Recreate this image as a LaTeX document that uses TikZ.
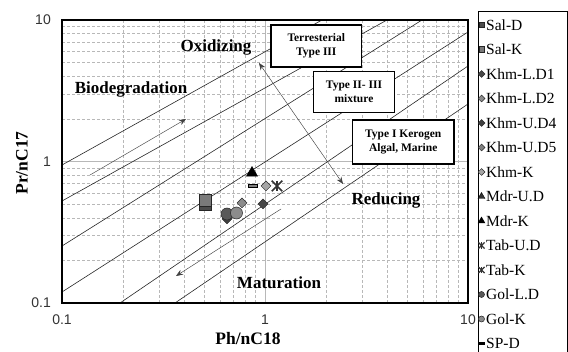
\documentclass[tikz,border=0pt]{standalone}
\usepackage{fontspec}
\setmainfont{Liberation Serif}
\newfontfamily\axsans{Liberation Sans}
\usetikzlibrary{shapes.geometric,shapes.misc,arrows.meta}
\begin{document}
\begin{tikzpicture}[x=1pt,y=-1pt,
  gridminor/.style={draw=black!28, dash pattern=on 3pt off 2pt, line width=0.5pt},
  gridmajor/.style={draw=black!28, line width=0.6pt},
  trend/.style={draw=black!85, line width=0.6pt},
  thinarrow/.style={draw=black!75, line width=0.45pt, -{Stealth[length=7pt,width=5.5pt]}},
  dblarrow/.style={draw=black!75, line width=0.45pt, {Stealth[length=7pt,width=5.5pt]}-{Stealth[length=7pt,width=5.5pt]}},
  typebox/.style={draw=black, line width=1.1pt, fill=white, align=center, inner sep=0pt,
    font=\fontsize{11.5}{13.5}\selectfont\bfseries},
  zonelabel/.style={font=\fontsize{17}{20}\selectfont\bfseries, inner sep=0pt},
  axlabel/.style={font=\fontsize{17.5}{20}\selectfont\bfseries, inner sep=0pt},
  ticklab/.style={font=\axsans\fontsize{14}{16}\selectfont, text=black!80, inner sep=0pt},
  legtext/.style={font=\fontsize{15.5}{17}\selectfont, anchor=west, inner sep=0pt},
  mksq/.style={rectangle, draw=black!85, line width=0.5pt, minimum size=#1, inner sep=0pt},
  mkdia/.style={diamond, draw=black!85, line width=0.5pt, minimum size=#1, inner sep=0pt},
  mkcirc/.style={circle, draw=black!85, line width=0.5pt, minimum size=#1, inner sep=0pt},
  mktri/.style={regular polygon, regular polygon sides=3, draw=black, fill=black, line width=0.4pt, minimum size=#1, inner sep=0pt},
  mkx/.style={cross out, draw=black!80, line width=1.5pt, minimum size=#1, inner sep=0pt},
  mkdash/.style={rectangle, draw=black, fill=black!50, line width=0.5pt, minimum width=#1, minimum height=2.5pt, inner sep=0pt},
  framebox/.style={draw=black, line width=2pt, inner sep=0pt, minimum width=406pt, minimum height=283pt},
  legbox/.style={draw=black, line width=1pt, inner sep=0pt, minimum width=89pt, minimum height=348pt}
]
\useasboundingbox (0,0) rectangle (568,352);
\clip (0,0) rectangle (568,352);

% ---------- grid ----------
\foreach \gx in {123.1,158.9,184.2,203.9,220.0,233.6,245.3,255.7,326.1,361.9,387.2,406.9,423.0,436.6,448.3,458.7}
  \draw[gridminor] (\gx,20) -- (\gx,303);
\foreach \gy in {260.4,235.5,217.8,204.1,192.9,183.4,175.2,168.0,118.9,94.0,76.3,62.6,51.4,41.9,33.7,26.5}
  \draw[gridminor] (62,\gy) -- (468,\gy);
\draw[gridmajor] (265,20) -- (265,303);
\draw[gridmajor] (62,161.5) -- (468,161.5);

% ---------- trend lines ----------
\coordinate (a1) at (62,165);  \coordinate (a2) at (322,20);
\coordinate (b1) at (62,201);  \coordinate (b2) at (387,20);
\coordinate (c1) at (62,246);  \coordinate (c2) at (422,20);
\coordinate (d1) at (62,292);  \coordinate (d2) at (468,32);
\coordinate (e1) at (120,303); \coordinate (e2) at (468,66);
\coordinate (f1) at (175,303); \coordinate (f2) at (468,104);
\draw[trend] (a1) -- (a2);
\draw[trend] (b1) -- (b2);
\draw[trend] (c1) -- (c2);
\draw[trend] (d1) -- (d2);
\draw[trend] (e1) -- (e2);
\draw[trend] (f1) -- (f2);

% ---------- arrows ----------
\coordinate (bio1) at (90,175);  \coordinate (bio2) at (186,119);
\coordinate (mat1) at (281,209); \coordinate (mat2) at (176,276);
\coordinate (dia1) at (259,63);  \coordinate (dia2) at (343,184);
\draw[thinarrow] (bio1) -- (bio2);
\draw[thinarrow] (mat1) -- (mat2);
\draw[dblarrow] (dia1) -- (dia2);

% ---------- type boxes ----------
\node[typebox, minimum width=90.5pt, minimum height=42pt] (terr) at (316.25,46) {Terresterial\\Type III};
\node[typebox, minimum width=81pt, minimum height=40.5pt] (mix) at (354,92) {Type II- III\\mixture};
\node[typebox, minimum width=101.5pt, minimum height=44pt] (algal) at (403.25,142) {Type I Kerogen\\Algal, Marine};

% ---------- zone labels ----------
\node[zonelabel] (oxi) at (216,47) {Oxidizing};
\node[zonelabel] (bio) at (131,89) {Biodegradation};
\node[zonelabel] (red) at (386,200) {Reducing};
\node[zonelabel] (mat) at (279,283) {Maturation};

% ---------- data ----------
\node[mksq=12pt, fill=black!70] (salD) at (205,204) {};
\node[mksq=12pt, fill=black!52] (salK) at (205,200) {};
\node[mkdia=10pt, fill=black!75] (khmU4) at (227,219) {};
\node[mkcirc=12pt, fill=black!65] (golLD) at (227,214) {};
\node[mkcirc=12pt, fill=black!45] (golK) at (236.5,213) {};
\node[mkdia=10pt, fill=black!45] (khmL2) at (242,203) {};
\node[mkdia=10pt, fill=black!72] (khmL1) at (263,204) {};
\node[mktri=13pt] (mdrK) at (252,173) {};
\node[mkdash=9pt] (spD) at (253,186) {};
\node[mkdia=10pt, fill=black!35] (khmK) at (266,186) {};
\node[mkx=9pt] (tabK) at (277,186) {};
\draw[black!80, line width=1.5pt] (tabK.north) -- (tabK.south);

% ---------- frame ----------
\node[framebox] (frame) at (265,161.5) {};

% ---------- ticks ----------
\node[ticklab, anchor=east] (y10) at (51,20) {10};
\node[ticklab, anchor=east] (y1) at (51,161.5) {1};
\node[ticklab, anchor=east] (y01) at (51,303) {0.1};
\node[ticklab] (x01) at (62,320) {0.1};
\node[ticklab] (x1) at (265,320) {1};
\node[ticklab] (x10) at (468,320) {10};

% ---------- axis labels ----------
\node[axlabel, rotate=90] (ylab) at (22,163) {Pr/nC17};
\node[axlabel] (xlab) at (248,339) {Ph/nC18};

% ---------- legend ----------
\node[legbox] (leg) at (522.5,186) {};
\node[mksq=5.5pt, fill=black!70] (l1) at (481.5,25) {};
\node[legtext] (t1) at (486,25) {Sal-D};
\node[mksq=5.5pt, fill=black!52] (l2) at (481.5,49.5) {};
\node[legtext] (t2) at (486,49.5) {Sal-K};
\node[mkdia=7pt, fill=black!72] (l3) at (481.5,74) {};
\node[legtext] (t3) at (486,74) {Khm-L.D1};
\node[mkdia=7pt, fill=black!45] (l4) at (481.5,98.5) {};
\node[legtext] (t4) at (486,98.5) {Khm-L.D2};
\node[mkdia=7pt, fill=black!75] (l5) at (481.5,123) {};
\node[legtext] (t5) at (486,123) {Khm-U.D4};
\node[mkdia=7pt, fill=black!50] (l6) at (481.5,147.5) {};
\node[legtext] (t6) at (486,147.5) {Khm-U.D5};
\node[mkdia=7pt, fill=black!35] (l7) at (481.5,172) {};
\node[legtext] (t7) at (486,172) {Khm-K};
\node[mktri=8pt, fill=black!80] (l8) at (481.5,196.5) {};
\node[legtext] (t8) at (486,196.5) {Mdr-U.D};
\node[mktri=8pt] (l9) at (481.5,221) {};
\node[legtext] (t9) at (486,221) {Mdr-K};
\node[mkx=5pt, line width=1.2pt] (l10) at (481.5,245.5) {};
\draw[black!80, line width=1.2pt] (l10.north) -- (l10.south);
\node[legtext] (t10) at (486,245.5) {Tab-U.D};
\node[mkx=5pt, line width=1.2pt] (l11) at (481.5,270) {};
\draw[black!80, line width=1.2pt] (l11.north) -- (l11.south);
\node[legtext] (t11) at (486,270) {Tab-K};
\node[mkcirc=6pt, fill=black!65] (l12) at (481.5,294.5) {};
\node[legtext] (t12) at (486,294.5) {Gol-L.D};
\node[mkcirc=6pt, fill=black!45] (l13) at (481.5,319) {};
\node[legtext] (t13) at (486,319) {Gol-K};
\node[mkdash=6pt, fill=black] (l14) at (481.5,343.5) {};
\node[legtext] (t14) at (486,343.5) {SP-D};
\end{tikzpicture}
\end{document}
